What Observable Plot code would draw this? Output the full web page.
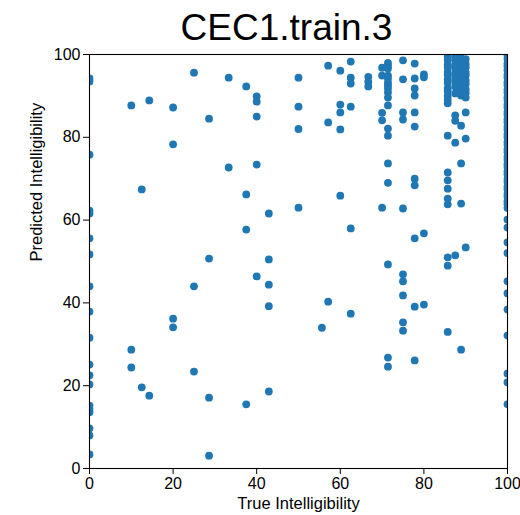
<!DOCTYPE html>
<html>
<head>
<meta charset="utf-8">
<script src="https://cdn.jsdelivr.net/npm/d3@7"></script>
<script src="https://cdn.jsdelivr.net/npm/@observablehq/plot@0.6"></script>
<style>
  html, body { margin: 0; padding: 0; background: #fff; }
  #chart { width: 520px; height: 515px; }
</style>
</head>
<body>
<div id="chart"></div>
<script>
const titleText = "CEC1.train.3";
const xLabel = "True Intelligibility";
const yLabel = "Predicted Intelligibility";
const xTicks = [0, 20, 40, 60, 80, 100];
const yTicks = [0, 20, 40, 60, 80, 100];

// True intelligibility columns and predicted values read for each column
const trueVals = [0, 10, 12.5, 14.3, 20, 25, 28.6, 33.3, 37.5, 40, 42.9, 50, 55.6, 57.1, 60, 62.5, 66.7, 70, 71.4, 75, 77.8, 80, 85.7, 87.5, 88.9, 90, 100];
const predVals = [
  [94.2, 93.5, 75.8, 62.3, 61.6, 55.6, 51.7, 44, 37.9, 31.6, 25.1, 22.5, 20.3, 15.2, 14.4, 13.6, 9.7, 8, 3.4],
  [87.7, 28.7, 24.4],
  [67.4, 19.6],
  [88.9, 17.6],
  [87.2, 78.3, 36.2, 34.1],
  [95.6, 44, 23.4],
  [84.5, 50.7, 17.1, 3.1],
  [94.4, 72.7],
  [92.3, 66.2, 57.7, 15.5],
  [89.9, 88.6, 85, 73.4, 46.4],
  [61.6, 50.5, 44.4, 39.2, 18.6],
  [94.4, 87.4, 82, 63],
  [34],
  [97.3, 83.6, 40.3],
  [96.1, 87.9, 86, 81.9, 65.9],
  [98.3, 94.4, 93, 87.4, 58, 37.4],
  [94.6, 93.4, 92.3],
  [96.8, 94.9, 85.9, 84.1, 63],
  [98, 97.3, 96.6, 94.9, 94.2, 93.2, 92.5, 91.8, 90.8, 89.6, 87.7, 82.1, 80.4, 73.7, 69, 49.3, 26.8, 24.6],
  [98.6, 94, 86, 84.3, 62.8, 46.9, 45.2, 41.8, 35.3, 33.3],
  [97.8, 94.2, 91.8, 90.1, 86, 82.6, 70, 68.4, 55.6, 39.1, 26.1],
  [95.2, 94.5, 56.8, 39.6],
  [99.6, 98.7, 97.6, 96.9, 95.8, 95.1, 94, 93.2, 91.9, 91.2, 90, 89.1, 88.2, 80.4, 71.5, 69.6, 67.6, 65.2, 63.8, 51, 49, 33],
  [99.4, 98.6, 97.4, 96.7, 95.3, 94.6, 93.6, 92.3, 90.6, 85.3, 84, 78.7, 51.5],
  [99.1, 98.2, 97.1, 96.3, 95.2, 94.1, 93.1, 92.2, 91.3, 90.1, 82.8, 73.7, 64, 28.7],
  [98.9, 97.7, 96.9, 95.6, 94.9, 93.7, 92.9, 91.6, 90.7, 89.6, 86, 79.7, 53.4],
  [99.7, 98.9, 97.8, 97.1, 96.2, 95.1, 94.4, 93.3, 92.6, 91.5, 90.8, 89.7, 89, 87.9, 87.2, 86.1, 85.4, 84.3, 83.6, 82.5, 81.8, 80.7, 80, 78.9, 78.2, 77.1, 76.4, 75.3, 74.6, 73.5, 72.8, 71.7, 71, 69.9, 69.2, 68.1, 67.4, 66.3, 65.6, 64.5, 63.8, 62.9, 60.1, 58.2, 54.6, 52, 45.2, 42.3, 38.4, 32.1, 22.9, 20.8, 15.5]
];

const points = trueVals.flatMap((t, i) => predVals[i].map(p => ({t, p})));

const chart = Plot.plot({
  width: 520,
  height: 515,
  marginLeft: 89,
  marginRight: 13,
  marginTop: 54,
  marginBottom: 47,
  style: {fontFamily: "'Liberation Sans', Arial, sans-serif", color: "#000", background: "#fff"},
  x: {domain: [0, 100]},
  y: {domain: [0, 100]},
  marks: [
    Plot.dot(points, {x: "t", y: "p", r: 3.9, fill: "#1f77b4", stroke: "none", clip: true}),
    Plot.frame({stroke: "#000", strokeWidth: 1.1}),
    Plot.axisX({ticks: xTicks, tickSize: 6, tickPadding: 3, fontSize: 16, label: null}),
    Plot.axisY({ticks: yTicks, tickSize: 6, tickPadding: 3, fontSize: 16, label: null}),
    Plot.text([xLabel], {frameAnchor: "bottom", dy: 40, fontSize: 16.5}),
    Plot.text([yLabel], {frameAnchor: "left", rotate: -90, dx: -53, fontSize: 16.5}),
    Plot.text([titleText], {frameAnchor: "top", dy: -41, dx: -12, fontSize: 37})
  ]
});
document.getElementById("chart").appendChild(chart);
</script>
</body>
</html>
